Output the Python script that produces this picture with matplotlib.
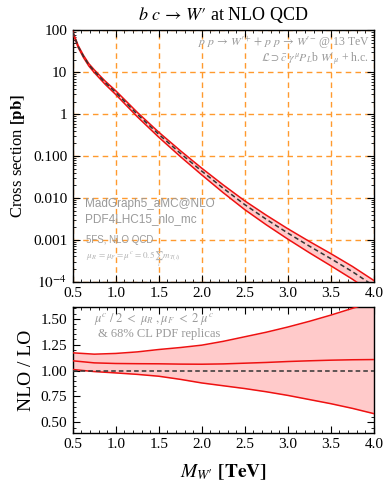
################################################################################
##### bc -> W' cross section at NLO QCD with NLO/LO ratio panel #####
import matplotlib
matplotlib.use('Agg')
import matplotlib.pyplot as plt
import matplotlib.ticker as mticker
import numpy as np

plt.rcParams['font.family'] = 'serif'
plt.rcParams['font.serif'] = ['Liberation Serif', 'DejaVu Serif']
plt.rcParams['mathtext.fontset'] = 'stix'

################################################################################
##### data #####
mass_tev = [0.5, 0.5625, 0.625, 0.6875, 0.75, 0.875, 1.0, 1.25, 1.5, 1.75, 2.0,
            2.25, 2.5, 2.75, 3.0, 3.25, 3.5, 3.75, 4.0]
#NLO cross section [pb]: central value and band edges
xsec_central = [91.0, 41.7, 24.0, 15.1, 10.7, 5.75, 3.31, 1.0, 0.331, 0.117, 0.0437,
                0.0170, 0.00692, 0.00309, 0.00145, 0.000708, 0.000355, 0.000174, 0.0000794]
xsec_upper = [95.5, 43.9, 25.4, 16.1, 11.5, 6.24, 3.63, 1.11, 0.372, 0.135, 0.0513,
              0.0204, 0.00851, 0.00387, 0.00184, 0.000916, 0.000468, 0.000232, 0.000107]
xsec_lower = [87.1, 39.4, 22.5, 14.1, 9.89, 5.22, 2.95, 0.871, 0.282, 0.0977, 0.0355,
              0.0133, 0.00525, 0.00228, 0.00104, 0.000492, 0.000240, 0.000115, 0.0000513]

ratio_mass = [0.5, 0.75, 1.0, 1.25, 1.5, 1.75, 2.0, 2.25, 2.5, 2.75, 3.0, 3.25, 3.5, 3.75, 4.0]
ratio_central = [1.094, 1.074, 1.068, 1.066, 1.065, 1.062, 1.061, 1.064, 1.071, 1.078, 1.087,
                 1.094, 1.100, 1.104, 1.106]
ratio_upper = [1.171, 1.158, 1.165, 1.180, 1.203, 1.222, 1.245, 1.282, 1.326, 1.370, 1.420,
               1.475, 1.535, 1.600, 1.665]
ratio_lower = [1.010, 0.990, 0.977, 0.963, 0.945, 0.915, 0.880, 0.853, 0.826, 0.795, 0.760,
               0.720, 0.680, 0.635, 0.584]

x_ticks = [0.5, 1.0, 1.5, 2.0, 2.5, 3.0, 3.5, 4.0]
y_ticks_main = [1e2, 1e1, 1e0, 1e-1, 1e-2, 1e-3, 1e-4]
y_ticklabels_main = ['100', '10', '1', '0.100', '0.010', '0.001', r'$10^{-4}$']
y_ticks_ratio = [0.50, 0.75, 1.00, 1.25, 1.50]

################################################################################
##### styles #####
red = '#ee1111'
pink = '#ffcaca'
grid_orange = '#ff9a2e'
gray_text = '#9a9a9a'

fig = plt.figure(figsize=(3.87, 4.84), dpi=100)
ax_main = fig.add_axes([0.188, 0.418, 0.778, 0.519])
ax_ratio = fig.add_axes([0.188, 0.106, 0.778, 0.259])

################################################################################
##### main panel #####
ax_main.fill_between(mass_tev, xsec_lower, xsec_upper, color=pink, lw=0, zorder=2)
ax_main.plot(mass_tev, xsec_upper, color=red, lw=1.1, zorder=3)
ax_main.plot(mass_tev, xsec_lower, color=red, lw=1.1, zorder=3)
ax_main.plot(mass_tev, xsec_central, color='#333333', lw=1.1, ls=(0, (3, 2)), zorder=4)

ax_main.set_yscale('log')
ax_main.set_xlim(0.5, 4.0)
ax_main.set_ylim(1e-4, 1e2)
ax_main.set_xticks(x_ticks)
ax_main.set_xticklabels(['%.1f' % t for t in x_ticks])
ax_main.xaxis.set_minor_locator(mticker.MultipleLocator(0.1))
ax_main.set_yticks(y_ticks_main)
ax_main.set_yticklabels(y_ticklabels_main)
ax_main.yaxis.set_minor_locator(mticker.LogLocator(base=10, subs=np.arange(2, 10), numticks=20))
ax_main.yaxis.set_minor_formatter(mticker.NullFormatter())
ax_main.grid(True, which='major', color=grid_orange, ls=(0, (4, 3)), lw=1.0, zorder=1)
ax_main.set_ylabel(r'Cross section $\mathbf{[pb]}$', fontsize=12, labelpad=4)

ax_main.text(0.985, 0.952, r"$p\ p\,\rightarrow\,W′^{+}\,+\,p\ p\,\rightarrow\,W′^{-}$ @ 13 TeV",
             transform=ax_main.transAxes, ha='right', va='center', fontsize=8.5, color=gray_text)
ax_main.text(0.985, 0.885, r"$\mathcal{L}\supset\bar{c}\ \gamma^{\mu}P_L$b $W′_{\mu}$ + h.c.",
             transform=ax_main.transAxes, ha='right', va='center', fontsize=8.5, color=gray_text)
ax_main.text(0.04, 0.31, 'MadGraph5_aMC@NLO', transform=ax_main.transAxes, ha='left', va='center',
             fontsize=8.5, color=gray_text, family='Liberation Sans')
ax_main.text(0.04, 0.25, 'PDF4LHC15_nlo_mc', transform=ax_main.transAxes, ha='left', va='center',
             fontsize=8.5, color=gray_text, family='Liberation Sans')
ax_main.text(0.045, 0.165, '5FS, NLO QCD', transform=ax_main.transAxes, ha='left', va='center',
             fontsize=7, color=gray_text, family='Liberation Sans')
ax_main.text(0.045, 0.09, r'$\mu_R\ =\mu_F=\mu^c\,=0.5\,\sum_i\,m_{T(i)}$', transform=ax_main.transAxes,
             ha='left', va='center', fontsize=6.5, color='#b0b0b0')

################################################################################
##### ratio panel #####
ax_ratio.fill_between(ratio_mass, ratio_lower, ratio_upper, color=pink, lw=0, zorder=2)
ax_ratio.plot(ratio_mass, ratio_upper, color=red, lw=1.1, zorder=3)
ax_ratio.plot(ratio_mass, ratio_lower, color=red, lw=1.1, zorder=3)
ax_ratio.plot(ratio_mass, ratio_central, color=red, lw=1.1, zorder=3)
ax_ratio.axhline(1.0, color='#333333', lw=1.1, ls=(0, (3, 2)), zorder=4)

ax_ratio.set_xlim(0.5, 4.0)
ax_ratio.set_ylim(0.4, 1.61)
ax_ratio.set_xticks(x_ticks)
ax_ratio.set_xticklabels(['%.1f' % t for t in x_ticks])
ax_ratio.xaxis.set_minor_locator(mticker.MultipleLocator(0.1))
ax_ratio.set_yticks(y_ticks_ratio)
ax_ratio.set_yticklabels(['%.2f' % t for t in y_ticks_ratio])
ax_ratio.yaxis.set_minor_locator(mticker.MultipleLocator(0.05))
ax_ratio.set_ylabel('NLO / LO', fontsize=14, labelpad=4)
ax_ratio.set_xlabel(r"$M_{W′}$ $\mathbf{[TeV]}$", fontsize=14, labelpad=8)

ax_ratio.text(0.07, 0.91, r'$\mu^c\ /\ 2\ <\ \mu_R\ ,\mu_F\ <\ 2\ \mu^c$', transform=ax_ratio.transAxes,
              ha='left', va='center', fontsize=9, color=gray_text)
ax_ratio.text(0.085, 0.79, '& 68% CL PDF replicas', transform=ax_ratio.transAxes,
              ha='left', va='center', fontsize=9, color=gray_text)

################################################################################
##### frame and ticks on both panels #####
for ax in [ax_main, ax_ratio]:
    ax.tick_params(which='both', direction='in', top=True, right=True, labelsize=11, pad=4)
    ax.tick_params(which='major', length=5, width=0.8)
    ax.tick_params(which='minor', length=2.5, width=0.6)
    for sp in ax.spines.values():
        sp.set_linewidth(1.0)

fig.text(0.577, 0.968, r"$b\ c\,\rightarrow\,W′$ at NLO QCD", ha='center', va='center', fontsize=13)

plt.savefig('out.png', dpi=100)
